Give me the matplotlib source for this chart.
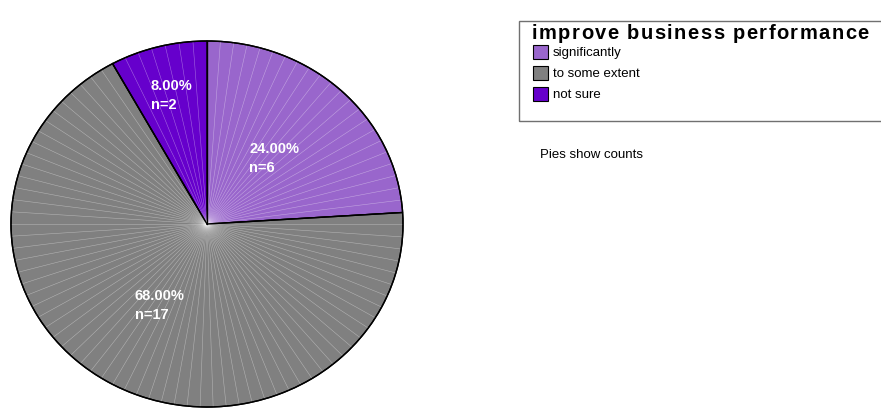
import numpy as np
import matplotlib
matplotlib.use("Agg")
import matplotlib.pyplot as plt
from matplotlib.patches import Rectangle

plt.rcParams['font.family'] = ['Liberation Sans', 'DejaVu Sans']

# data
categories = ['significantly', 'to some extent', 'not sure']
counts = [6, 17, 2]
colors = ['#9966CC', '#808080', '#6600CC']
legend_title = 'improve business performance'

fig = plt.figure(figsize=(8.81, 4.10), dpi=100)
W, H = 881, 410

# pie axes (slightly wider than tall, like the original)
ax = fig.add_axes([11 / W, 2 / H, 392 / W, 366 / H])
wedges, _ = ax.pie(counts, colors=colors, startangle=90, counterclock=False,
                   wedgeprops=dict(edgecolor='black', linewidth=1.0))
ax.set_aspect('auto')
ax.set_xlim(-1, 1)
ax.set_ylim(-1, 1)
ax.axis('off')
for w in wedges:
    w.set_clip_on(False)
    w.set_zorder(1)

# thin white radial lines inside the slices
total = sum(counts)
start = 90.0
for c in counts:
    span = c / total * 360
    n = max(int(span / 3.8), 1)
    for k in range(1, n):
        a = np.radians(start - span * k / n)
        ax.plot([0, np.cos(a)], [0, np.sin(a)], color='white', lw=0.4,
                alpha=0.4, clip_on=False, zorder=2)
    start -= span

# redraw the outline on top
ax.add_patch(plt.Circle((0, 0), 1, fill=False, ec='black', lw=1.0,
                        zorder=3, clip_on=False))
start = 90.0
for c in counts:
    a = np.radians(start)
    ax.plot([0, np.cos(a)], [0, np.sin(a)], color='black', lw=1.0, zorder=3)
    start -= c / total * 360

# labels
start = 90.0
for c, r in zip(counts, [0.5, 0.5, 0.73]):
    span = c / total * 360
    mid = np.radians(start - span / 2)
    ax.text(r * np.cos(mid), r * np.sin(mid),
            '%.2f%%\nn=%d' % (c / total * 100, c),
            color='white', fontsize=10.5, fontweight='bold',
            ha='center', va='center', multialignment='left',
            linespacing=1.45, zorder=4)
    start -= span

# legend box
fig.patches.append(Rectangle((519 / W, 1 - 122 / H), 400 / W, 100 / H,
                             transform=fig.transFigure, fill=False,
                             ec='#707070', lw=1.0))

# bold title, drawn char by char with a little extra spacing
renderer = fig.canvas.get_renderer()
x = 532.0
for ch in legend_title:
    t = fig.text(x / W, 1 - 39 / H, ch, fontsize=14.5, fontweight='bold',
                 va='baseline', ha='left')
    if ch == ' ':
        wpx = t.get_fontsize() * 100 / 72 * 0.28
    else:
        wpx = t.get_window_extent(renderer).width
    x += wpx + 1.4

for i, (lab, col) in enumerate(zip(categories, colors)):
    y0 = 46 + i * 21
    fig.patches.append(Rectangle((533 / W, 1 - (y0 + 14) / H), 15 / W, 14 / H,
                                 transform=fig.transFigure, fc=col,
                                 ec='black', lw=0.8))
    fig.text(553 / W, 1 - (y0 + 7) / H, lab, fontsize=9.5, va='center',
             ha='left')

fig.text(540 / W, 1 - 155 / H, 'Pies show counts', fontsize=9.5,
         va='center', ha='left')

fig.savefig('out.png', dpi=100)
